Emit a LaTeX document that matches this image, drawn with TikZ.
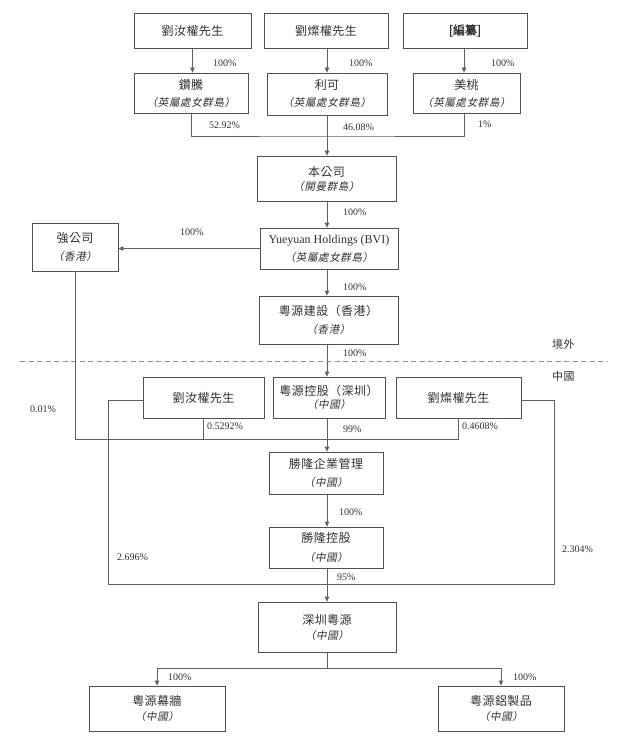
\documentclass[tikz,border=0pt]{standalone}
\usepackage{fontspec}
\setmainfont{Liberation Serif}
\newfontfamily\cjk{Noto Sans CJK TC}[LetterSpace=4]
\newfontfamily\cjkit{Noto Sans CJK TC}[FakeSlant=0.2,LetterSpace=6]
\newfontfamily\cjkbf{Noto Sans CJK TC}[FakeBold=1.2]
\usepackage{tikz}
\usetikzlibrary{arrows.meta,positioning,calc}
\definecolor{boxcol}{HTML}{505050}
\definecolor{lncol}{HTML}{606060}
\definecolor{txtcol}{HTML}{303030}
\newcommand\placeit[1]{{\cjkit\fontsize{10.5}{12}\selectfont （#1）}}

\begin{document}
\begin{tikzpicture}[x=1pt,y=-1pt,>={Triangle[length=5pt,width=4.5pt]},
  ent/.style={draw=boxcol,line width=0.8pt,align=center,inner sep=0pt,text=txtcol,
    font=\cjk\fontsize{12}{17}\selectfont},
  ln/.style={lncol,line width=0.8pt},
  arr/.style={ln,->},
  pct/.style={anchor=west,inner sep=0pt,text=txtcol,font=\fontsize{10}{12}\selectfont},
  zone/.style={anchor=west,inner sep=0pt,text=txtcol,font=\cjk\fontsize{11}{13}\selectfont}]
  \useasboundingbox (0,0) rectangle (636,754);
  % owners
  \node[ent,minimum width=117,minimum height=35] (lruA) at (192.5,30.5) {劉汝權先生};
  \node[ent,minimum width=124,minimum height=35] (lcqA) at (326,30.5) {劉燦權先生};
  \node[ent,minimum width=124,minimum height=35] (bzh) at (465,30.5) {\cjkbf [編纂]};
  \node[ent,minimum width=114,minimum height=40] (zt) at (191,93) {鑽騰\\\placeit{英屬處女群島}};
  \node[ent,minimum width=120,minimum height=42] (lk) at (327,94) {利可\\\placeit{英屬處女群島}};
  \node[ent,minimum width=107,minimum height=40] (mt) at (466.5,93) {美桃\\\placeit{英屬處女群島}};
  \node[ent,minimum width=139,minimum height=45] (bgs) at (326.5,178.5) {本公司\\[-3pt]\placeit{開曼群島}};
  \node[ent,minimum width=138,minimum height=41] (yyh) at (329,248.5)
    {{\rmfamily\fontsize{12}{14}\selectfont Yueyuan Holdings (BVI)}\\[1pt]\placeit{英屬處女群島}};
  \node[ent,minimum width=86,minimum height=48] (qgs) at (75,247) {強公司\\[1pt]\placeit{香港}};
  \node[ent,minimum width=139,minimum height=48] (yyjs) at (328.5,320) {粵源建設（香港）\\[1pt]\placeit{香港}};
  % onshore
  \node[ent,minimum width=121,minimum height=41] (lruB) at (203.5,397.5) {劉汝權先生};
  \node[ent,minimum width=112,minimum height=41] (yykg) at (329,397.5) {粵源控股（深圳）\\[-4pt]\placeit{中國}};
  \node[ent,minimum width=125,minimum height=41] (lcqB) at (458.5,397.5) {劉燦權先生};
  \node[ent,minimum width=114,minimum height=42] (slqy) at (326,473) {勝隆企業管理\\[1pt]\placeit{中國}};
  \node[ent,minimum width=114,minimum height=41] (slkg) at (326,547.5) {勝隆控股\\[2pt]\placeit{中國}};
  \node[ent,minimum width=138,minimum height=50] (szyy) at (327,627) {深圳粵源\\[-2pt]\placeit{中國}};
  \node[ent,minimum width=136,minimum height=45] (yymq) at (157,708.5) {粵源幕牆\\[-2pt]\placeit{中國}};
  \node[ent,minimum width=126,minimum height=45] (yylz) at (501,708.5) {粵源鋁製品\\[-2pt]\placeit{中國}};

  \coordinate (spine) at (327,0);
  \coordinate (j1) at (327,136);
  \coordinate (j2) at (327,439);
  \coordinate (lp) at (108,584);
  \coordinate (rp) at (554,584);
  \coordinate (sp) at (327,668);
  \coordinate (dl) at (20,361);
  \coordinate (dr) at (608,361);

  \draw[arr] (lruA.south) -- (lruA.south |- zt.north);
  \draw[arr] (lcqA.south -| spine) -- (lk.north -| spine);
  \draw[arr] (bzh.south -| 464,0) -- (mt.north -| 464,0);
  \draw[ln] (zt.south) |- (j1) -| (mt.south -| 464,0);
  \draw[arr] (lk.south -| spine) -- (bgs.north -| spine);
  \draw[arr] (bgs.south -| spine) -- (yyh.north -| spine);
  \draw[arr] (yyh.west) -- (yyh.west -| qgs.east);
  \draw[arr] (yyh.south -| spine) -- (yyjs.north -| spine);
  \draw[arr] (yyjs.south -| spine) -- (yykg.north -| spine);
  \draw[lncol!70,line width=0.8pt,dash pattern=on 5pt off 3.5pt] (dl) -- (dr);
  \draw[ln] (qgs.south) |- (j2);
  \draw[ln] (lcqB.south) |- (j2);
  \draw[ln] (lruB.south) -- (lruB.south |- j2);
  \draw[arr] (yykg.south -| spine) -- (slqy.north -| spine);
  \draw[arr] (slqy.south -| spine) -- (slkg.north -| spine);
  \draw[ln] ([yshift=-2.5]lruB.west) -| (lp) -- (rp) |- ([yshift=-2.5]lcqB.east);
  \draw[arr] (slkg.south -| spine) -- (szyy.north -| spine);
  \draw[ln] (szyy.south -| spine) -- (sp);
  \draw[arr] (sp) -| (yymq.north);
  \draw[arr] (sp) -| (yylz.north);

  \node[pct] (p1) at (213,63) {100\%};
  \node[pct] (p2) at (349,63) {100\%};
  \node[pct] (p3) at (491,63) {100\%};
  \node[pct] (p4) at (209,125) {52.92\%};
  \node[pct] (p5) at (343,127) {46.08\%};
  \node[pct] (p6) at (478,124) {1\%};
  \node[pct] (p7) at (343,212) {100\%};
  \node[pct] (p8) at (180,232) {100\%};
  \node[pct] (p9) at (343,287) {100\%};
  \node[pct] (p10) at (343,353) {100\%};
  \node[pct] (p11) at (30,409) {0.01\%};
  \node[pct] (p12) at (207,426) {0.5292\%};
  \node[pct] (p13) at (462,426) {0.4608\%};
  \node[pct] (p14) at (343,429) {99\%};
  \node[pct] (p15) at (339,512) {100\%};
  \node[pct] (p16) at (117,557) {2.696\%};
  \node[pct] (p17) at (562,549) {2.304\%};
  \node[pct] (p18) at (337,577) {95\%};
  \node[pct] (p19) at (168,677) {100\%};
  \node[pct] (p20) at (513,677) {100\%};
  \node[zone] (off) at (552,344) {境外};
  \node[zone] (cn) at (552,376) {中國};
\end{tikzpicture}
\end{document}
